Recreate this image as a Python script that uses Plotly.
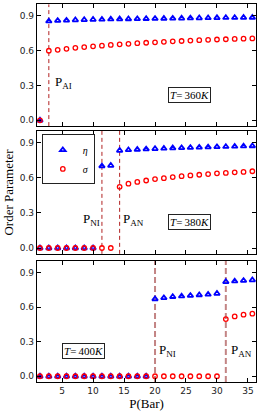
import plotly.graph_objects as go

# ---------------- data ----------------
P = [1.43, 2.86, 4.29, 5.71, 7.14, 8.57, 10.0, 11.43, 12.86, 14.29, 15.71, 17.14, 18.57,
     20.0, 21.43, 22.86, 24.29, 25.71, 27.14, 28.57, 30.0, 31.43, 32.86, 34.29, 35.71]

eta_360 = [0.0, 0.855, 0.860, 0.862, 0.865, 0.867, 0.869, 0.870, 0.872, 0.873, 0.874, 0.875,
           0.876, 0.877, 0.878, 0.879, 0.880, 0.881, 0.882, 0.883, 0.884, 0.885, 0.885, 0.886, 0.887]
sigma_360 = [0.0, 0.600, 0.608, 0.617, 0.625, 0.632, 0.638, 0.644, 0.650, 0.655, 0.660, 0.665,
             0.669, 0.673, 0.677, 0.681, 0.684, 0.688, 0.691, 0.694, 0.697, 0.699, 0.702, 0.704, 0.706]

eta_380 = [0, 0, 0, 0, 0, 0, 0, 0.700, 0.705, 0.833, 0.838, 0.842, 0.845, 0.848, 0.851, 0.854,
           0.856, 0.858, 0.860, 0.862, 0.864, 0.866, 0.868, 0.870, 0.872]
sigma_380 = [0, 0, 0, 0, 0, 0, 0, 0, 0, 0.523, 0.550, 0.565, 0.577, 0.589, 0.597, 0.606,
             0.614, 0.620, 0.626, 0.632, 0.638, 0.642, 0.647, 0.650, 0.656]

eta_400 = [0, 0, 0, 0, 0, 0, 0, 0, 0, 0, 0, 0, 0, 0.670, 0.680, 0.690, 0.695, 0.700, 0.705,
           0.710, 0.718, 0.820, 0.825, 0.830, 0.835]
sigma_400 = [0, 0, 0, 0, 0, 0, 0, 0, 0, 0, 0, 0, 0, 0, 0, 0, 0, 0, 0, 0, 0, 0.496, 0.519, 0.534, 0.543]

panels = [
    {"T": "360", "eta": eta_360, "sigma": sigma_360,
     "lines": [("AI", 2.86)], "labels": [("AI", 3.5, 0.33)], "tbox": (25.6, 0.22)},
    {"T": "380", "eta": eta_380, "sigma": sigma_380,
     "lines": [("NI", 11.43), ("AN", 14.29)],
     "labels": [("NI", 8.1, 0.24), ("AN", 14.45, 0.24)], "tbox": (25.6, 0.22)},
    {"T": "400", "eta": eta_400, "sigma": sigma_400,
     "lines": [("NI", 20.0), ("AN", 31.43)],
     "labels": [("NI", 20.35, 0.225), ("AN", 32.0, 0.225)], "tbox": (8.46, 0.22)},
]

domains = [[0.677, 0.999], [0.339, 0.664], [0.0, 0.32]]
line_styles = [dict(color="#b22222", width=1, dash="4px,3px"),
               dict(color="#b22222", width=1, dash="4px,3px"),
               dict(color="rgba(185,110,110,0.85)", width=2, dash="6px,3px")]

SERIF = "Liberation Serif, DejaVu Serif, serif"
SANS = "DejaVu Sans, sans-serif"

fig = go.Figure()
annotations = []
shapes = []

for i, pn in enumerate(panels):
    xa = "x" if i == 0 else f"x{i+1}"
    ya = "y" if i == 0 else f"y{i+1}"
    fig.add_trace(go.Scatter(
        x=P, y=pn["eta"], mode="markers", xaxis=xa, yaxis=ya,
        name="<i>η</i>", showlegend=(i == 1), legendrank=1,
        marker=dict(symbol="triangle-up-open", size=5, color="#0000ff",
                    line=dict(width=1.8, color="#0000ff"))))
    fig.add_trace(go.Scatter(
        x=P, y=pn["sigma"], mode="markers", xaxis=xa, yaxis=ya,
        name="<i>σ</i>", showlegend=(i == 1), legendrank=2,
        marker=dict(symbol="circle-open", size=4.5, color="#ff0000",
                    line=dict(width=1.3, color="#ff0000"))))
    for _, xv in pn["lines"]:
        shapes.append(dict(type="line", xref=xa, yref=f"{ya} domain",
                           x0=xv, x1=xv, y0=0, y1=1, line=line_styles[i], layer="below"))
    for sub, xv, yv in pn["labels"]:
        annotations.append(dict(x=xv, y=yv, xref=xa, yref=ya, xanchor="left", yanchor="middle",
                                text=f"P<sub>{sub}</sub>", showarrow=False,
                                font=dict(family=SERIF, size=13, color="black")))
    tx, ty = pn["tbox"]
    annotations.append(dict(x=tx, y=ty, xref=xa, yref=ya, xanchor="center", yanchor="middle",
                            text=f"<i>T</i>=&#8201;{pn['T']}<i>K</i>", showarrow=False,
                            bordercolor="#222", borderwidth=1, borderpad=1, bgcolor="white",
                            font=dict(family=SERIF, size=11, color="black")))

axis_common = dict(showline=True, linecolor="black", linewidth=1.2, mirror="ticks",
                   ticks="inside", ticklen=4, tickwidth=1, tickcolor="black",
                   showgrid=False, zeroline=False,
                   tickfont=dict(family=SANS, size=9, color="#222"))

layout = dict(width=261, height=414, margin=dict(l=37, r=5, t=4, b=32),
              plot_bgcolor="white", paper_bgcolor="white", showlegend=True,
              legend=dict(x=0.022, y=0.655, xanchor="left", yanchor="top",
                          bordercolor="#222", borderwidth=1, bgcolor="white",
                          font=dict(family=SERIF, size=10, color="black"),
                          itemwidth=30, tracegroupgap=0, traceorder="normal"),
              annotations=annotations, shapes=shapes)

for i in range(3):
    xk = "xaxis" if i == 0 else f"xaxis{i+1}"
    yk = "yaxis" if i == 0 else f"yaxis{i+1}"
    ya = "y" if i == 0 else f"y{i+1}"
    xa = "x" if i == 0 else f"x{i+1}"
    layout[xk] = dict(axis_common, range=[0.95, 36.3], anchor=ya,
                      tickvals=[5, 10, 15, 20, 25, 30, 35],
                      showticklabels=(i == 2), domain=[0, 1])
    if i == 2:
        layout[xk]["title"] = dict(text="P(Bar)", font=dict(family=SERIF, size=13, color="black"),
                                   standoff=2)
    layout[yk] = dict(axis_common, range=[-0.05, 1.0], anchor=xa, domain=domains[i],
                      tickvals=[0.0, 0.3, 0.6, 0.9], tickformat=".1f")
    if i == 1:
        layout[yk]["title"] = dict(text="Order Parameter",
                                   font=dict(family=SERIF, size=13, color="black"), standoff=3)

fig.update_layout(**layout)
fig.write_html("out.html", config={"displayModeBar": False},
               post_script="document.body.style.margin='0';document.body.style.overflow='hidden';")
